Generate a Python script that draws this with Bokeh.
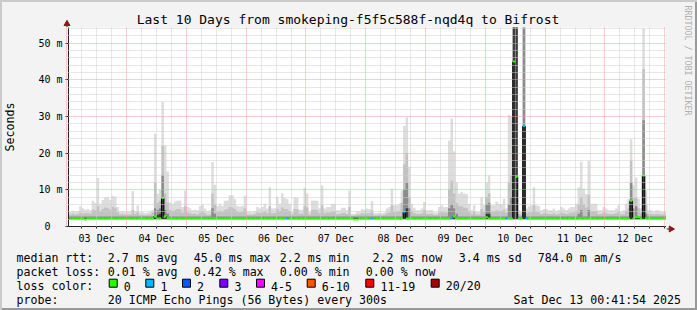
import math
from bokeh.plotting import figure
from bokeh.layouts import column, row
from bokeh.models import Range1d, FixedTicker, Grid, ColumnDataSource
from bokeh.core.properties import value
from bokeh.embed import file_html
from bokeh.resources import INLINE

# ------------------------------------------------------------------ data
TITLE = "Last 10 Days from smokeping-f5f5c588f-nqd4q to Bifrost"
day_labels = ["03 Dec", "04 Dec", "05 Dec", "06 Dec", "07 Dec",
              "08 Dec", "09 Dec", "10 Dec", "11 Dec", "12 Dec"]
y_tick_values = [0, 10, 20, 30, 40, 50]
y_tick_labels = ["0\u00a0\u00a0", "10 m", "20 m", "30 m", "40 m", "50 m"]

# hourly bins counted from 03 Dec 00:00 (bin i = hour i .. i+1), values in ms
ping_max = [
    4.1, 4.1, 4.3, 4.0, 4.2, 5.5, 5.0, 4.6, 4.8, 4.4, 7.0, 6.5, 13.2, 6.2, 7.2, 8.0, 8.0, 7.3, 8.4, 8.2, 5.3, 4.0, 4.2, 3.9,
    4.0, 4.1, 9.6, 4.2, 5.7, 3.8, 3.9, 3.7, 3.8, 4.0, 4.5, 25.3, 9.0, 10.0, 34.0, 22.2, 15.0, 6.6, 6.2, 6.8, 7.1, 7.1, 5.3, 9.8,
    5.3, 5.0, 4.5, 4.6, 4.4, 5.5, 6.0, 4.9, 4.2, 4.4, 17.6, 11.4, 5.6, 6.2, 5.6, 7.0, 7.1, 8.5, 8.5, 7.5, 5.6, 5.4, 5.6, 8.4,
    4.0, 4.1, 3.9, 4.2, 5.3, 5.0, 5.3, 6.2, 4.9, 10.7, 4.9, 5.0, 8.0, 6.2, 9.1, 7.8, 7.5, 6.2, 4.0, 8.0, 7.8, 4.6, 4.6, 10.5,
    9.0, 4.0, 7.1, 7.1, 7.0, 5.0, 11.2, 4.9, 5.3, 5.3, 6.2, 6.2, 4.4, 4.4, 5.1, 5.1, 4.4, 9.8, 3.5, 3.5, 4.0, 4.0, 4.8, 4.6,
    4.9, 4.8, 6.9, 3.7, 3.7, 3.8, 3.7, 3.8, 4.9, 5.3, 10.3, 5.8, 5.8, 6.2, 9.8, 27.4, 29.8, 16.3, 6.2, 5.1, 4.4, 4.4, 4.9, 6.7,
    4.4, 4.4, 4.6, 3.9, 3.9, 5.3, 5.8, 5.3, 5.3, 23.5, 29.5, 20.5, 12.0, 9.0, 9.5, 9.0, 8.9, 6.2, 4.4, 5.8, 4.0, 4.0, 8.0, 5.8,
    12.0, 13.9, 5.8, 5.8, 6.8, 6.2, 6.0, 7.6, 5.0, 30.5, 30.0, 60.0, 60.0, 4.4, 4.0, 60.0, 4.9, 5.5, 5.8, 10.7, 5.8, 5.6, 4.4, 4.8,
    4.8, 4.4, 4.4, 4.9, 4.2, 4.5, 5.3, 4.9, 4.4, 4.9, 5.3, 5.3, 6.2, 10.7, 17.7, 10.3, 8.9, 17.9, 6.2, 6.2, 6.2, 4.4, 4.4, 5.3,
    4.9, 4.4, 4.4, 4.4, 4.9, 5.8, 4.0, 4.4, 6.2, 7.6, 23.8, 11.2, 13.4, 7.6, 5.0, 54.0, 9.8, 4.4, 4.4, 4.0, 4.4, 4.4, 4.0, 4.0,
    4.0,
]
ping_p19 = [
    3.4, 3.3, 3.5, 3.3, 3.4, 3.8, 3.6, 3.6, 3.7, 3.5, 4.6, 4.4, 5.5, 4.2, 4.8, 5.2, 5.0, 4.6, 5.3, 5.0, 3.8, 3.3, 3.4, 3.2,
    3.3, 3.3, 4.5, 3.4, 3.9, 3.2, 3.2, 3.1, 3.2, 3.3, 3.8, 12.0, 6.5, 7.0, 22.0, 9.0, 6.5, 4.5, 4.2, 4.5, 4.8, 4.7, 3.8, 5.5,
    3.8, 3.6, 3.4, 3.5, 3.3, 3.8, 4.0, 3.6, 3.2, 3.3, 9.0, 6.0, 4.0, 4.3, 4.0, 4.6, 4.7, 5.3, 5.2, 4.8, 4.0, 3.9, 4.0, 5.0,
    3.3, 3.3, 3.2, 3.4, 3.8, 3.7, 3.8, 4.1, 3.6, 5.5, 3.6, 3.7, 4.8, 4.2, 5.2, 4.8, 4.7, 4.2, 3.3, 4.8, 4.7, 3.5, 3.5, 5.5,
    5.2, 3.3, 4.6, 4.6, 4.5, 3.7, 5.8, 3.6, 3.8, 3.8, 4.1, 4.1, 3.4, 3.4, 3.7, 3.7, 3.4, 5.3, 3.0, 3.0, 3.3, 3.3, 3.6, 3.5,
    3.6, 3.6, 4.4, 3.1, 3.1, 3.2, 3.1, 3.2, 3.6, 3.8, 5.8, 4.0, 4.0, 4.2, 6.5, 17.0, 20.0, 8.0, 4.2, 3.7, 3.4, 3.4, 3.6, 4.4,
    3.4, 3.4, 3.5, 3.2, 3.2, 3.8, 4.0, 3.8, 3.8, 10.0, 12.5, 9.0, 6.5, 5.5, 5.5, 5.2, 5.0, 4.1, 3.4, 4.0, 3.3, 3.3, 4.8, 4.0,
    8.0, 9.0, 4.0, 4.0, 4.4, 4.2, 4.1, 4.6, 3.7, 12.0, 14.0, 60.0, 60.0, 3.4, 3.3, 60.0, 3.6, 3.9, 4.0, 5.8, 4.0, 3.9, 3.4, 3.6,
    3.6, 3.4, 3.4, 3.6, 3.3, 3.5, 3.8, 3.6, 3.4, 3.6, 3.8, 3.8, 4.2, 6.0, 8.0, 6.0, 5.2, 8.5, 4.2, 4.2, 4.2, 3.4, 3.4, 3.8,
    3.6, 3.4, 3.4, 3.4, 3.6, 4.0, 3.3, 3.4, 4.2, 5.0, 18.0, 8.0, 8.0, 5.0, 3.7, 43.0, 6.0, 3.4, 3.4, 3.3, 3.4, 3.4, 3.3, 3.3,
    3.3,
]
ping_min = 2.0
# inner smoke, typical value plus readings where it differs
p15_typical = 2.7
p15_read = {35: 5.0, 36: 4.5, 37: 5.0, 38: 14.0, 39: 4.5, 40: 3.5, 58: 5.0, 59: 3.5,
            135: 10.0, 136: 12.0, 137: 5.0, 153: 5.0, 154: 6.0, 155: 5.0, 156: 3.5,
            168: 6.0, 169: 6.5, 177: 6.0, 178: 8.0, 179: 60.0, 180: 60.0, 183: 60.0,
            205: 3.5, 206: 4.5, 209: 4.5, 226: 12.0, 227: 5.0, 228: 5.5, 231: 29.0, 232: 3.5}
# dense core of the smoke
core_typical = 2.3
core_read = {36: 3.2, 37: 3.5, 38: 7.8, 135: 4.0, 136: 5.0, 168: 3.5, 169: 3.5,
             179: 60.0, 180: 60.0, 183: 27.4, 226: 7.0, 231: 13.9}
# median rtt
median_typical = 2.2
median_read = {7: 1.9, 35: 2.8, 38: 7.8, 39: 2.8, 115: 1.9, 116: 1.9, 135: 4.0,
               154: 2.4, 155: 2.8, 168: 2.5, 179: 45.0, 180: 13.6, 183: 27.4,
               226: 7.0, 228: 2.5, 229: 2.5, 231: 13.9}
# lost pings out of 20
loss_read = {88: 1, 122: 1, 135: 1, 154: 1, 176: 1, 183: 1, 184: 1}

loss_labels = ["0", "1", "2", "3", "4-5", "6-10", "11-19", "20/20"]
loss_colors = ["#26ff00", "#00b8ff", "#0059ff", "#7e00ff", "#ff00ff",
               "#ff5500", "#ff0000", "#a10000"]

rtt_label = "median rtt:"
rtt_stats = ["2.7 ms avg", "45.0 ms max", "2.2 ms min", "2.2 ms now", "3.4 ms sd", "784.0 m am/s"]
loss_label = "packet loss:"
loss_stats = ["0.01 % avg", "0.42 % max", "0.00 % min", "0.00 % now"]
color_label = "loss color:"
probe_label = "probe:"
probe_text = "20 ICMP Echo Pings (56 Bytes) every 300s"
stamp_text = "Sat Dec 13 00:41:54 2025"
watermark = "RRDTOOL / TOBI OETIKER"

N = len(ping_max)
assert N == 241 and len(ping_p19) == N

p15 = [p15_read.get(i, p15_typical) for i in range(N)]
core = [core_read.get(i, core_typical) for i in range(N)]
median = [median_read.get(i, median_typical) for i in range(N)]
loss = [loss_read.get(i, 0) for i in range(N)]


def loss_bucket(n):
    if n <= 3:
        return n
    if n <= 5:
        return 4
    if n <= 10:
        return 5
    if n <= 19:
        return 6
    return 7

# ------------------------------------------------------------------ layout
W, H = 697, 310
FL, FR, FT, FB = 66, 666, 27, 228      # graph frame in page pixels
SPLIT = 246                            # page row where the legend strip starts
X0, X1 = 0.7, 240.7
Y0, Y1 = 0.0, 54.3
MONO = "DejaVu Sans Mono"
AXIS = "#222222"
ARROW = "#8b1a1a"


def blank(width, height, xr, yr):
    f = figure(width=width, height=height, x_range=xr, y_range=yr,
               output_backend="svg", toolbar_location=None,
               x_axis_location=None, y_axis_location=None,
               min_border=0, min_border_left=0, min_border_right=0,
               min_border_top=0, min_border_bottom=0,
               background_fill_alpha=0, border_fill_alpha=0,
               outline_line_color=None, frame_align=False)
    f.xgrid.visible = False
    f.ygrid.visible = False
    return f


# ---- main graph
p = figure(width=FR, height=SPLIT - FT, x_range=Range1d(X0, X1), y_range=Range1d(Y0, Y1),
           output_backend="svg", toolbar_location=None,
           min_border_left=FL, min_border_right=0,
           min_border_top=0, min_border_bottom=SPLIT - FB,
           background_fill_color="#ffffff", border_fill_alpha=0,
           outline_line_color=None, frame_align=False)
p.xgrid.visible = False
p.ygrid.visible = False

edges = list(range(N + 1))


def ext(v):
    return list(v) + [v[-1]]


floor = [ping_min] * (N + 1)
for vals, col in [(ping_max, "#dddddd"), (ping_p19, "#c2c2c2"),
                  (p15, "#8c8c8c"), (core, "#3c3c3c")]:
    p.varea_step(x=edges, y1=floor, y2=ext(vals), step_mode="after",
                 fill_color=col, fill_alpha=1.0)

cx, cy0, cy1 = [], [], []
for i in range(1, N):
    if abs(median[i] - median[i - 1]) > 0.35:
        cx.append(i)
        cy0.append(median[i - 1])
        cy1.append(median[i])
p.segment(x0=cx, x1=cx, y0=cy0, y1=cy1, line_color="#000000", line_width=1)

msrc = ColumnDataSource(dict(
    x0=list(range(N)), x1=[i + 1 for i in range(N)], y=median,
    c=[loss_colors[loss_bucket(n)] for n in loss]))
p.segment(x0="x0", x1="x1", y0="y", y1="y", line_color="c", line_width=2, source=msrc)

minor_x = [6 * k for k in range(41) if k % 4 != 0]
major_x = [24 * k for k in range(11)]
minor_y = [2 * k for k in range(28) if k % 5 != 0]
major_y = [10 * k for k in range(1, 6)]
for dim, ticks, col in [(0, minor_x, "#cfcfcf"), (1, minor_y, "#cfcfcf"),
                        (0, major_x, "#f0a0a0"), (1, major_y, "#f0a0a0")]:
    p.add_layout(Grid(dimension=dim, ticker=FixedTicker(ticks=ticks), grid_line_color=col,
                      grid_line_dash="1 1", grid_line_width=1, level="guide"))

noon = [12 + 24 * k for k in range(10)]
p.xaxis.ticker = FixedTicker(ticks=noon, minor_ticks=[6 * k for k in range(41)])
p.xaxis.major_label_overrides = {t: lab for t, lab in zip(noon, day_labels)}
p.xaxis.major_tick_out = 0
p.xaxis.major_tick_in = 0
p.xaxis.minor_tick_out = 2
p.xaxis.minor_tick_in = 0
p.xaxis.major_label_standoff = 4
p.yaxis.ticker = FixedTicker(ticks=y_tick_values)
p.yaxis.major_label_overrides = {t: lab for t, lab in zip(y_tick_values, y_tick_labels)}
p.yaxis.major_tick_out = 3
p.yaxis.major_tick_in = 0
p.yaxis.minor_tick_out = 0
p.yaxis.minor_tick_in = 0
p.yaxis.major_label_standoff = 3
p.yaxis.axis_label = "Seconds"
p.yaxis.axis_label_text_font = MONO
p.yaxis.axis_label_text_font_size = "11.6px"
p.yaxis.axis_label_text_font_style = "normal"
p.yaxis.axis_label_text_color = "#000000"
p.yaxis.axis_label_standoff = 18
for ax in (p.xaxis, p.yaxis):
    ax.major_label_text_font = MONO
    ax.major_label_text_font_size = "10px"
    ax.major_label_text_color = "#000000"
    ax.axis_line_color = AXIS
    ax.major_tick_line_color = AXIS
    ax.minor_tick_line_color = AXIS

# ---- title strip (page pixel coordinates)
top = blank(FR, FT, Range1d(0, FR), Range1d(FT, 0))
top.text(x=[347.5], y=[18.6], text=[TITLE], text_font=value(MONO),
         text_font_size=value("13px"), text_align="center",
         text_baseline="middle", text_color="#000000")
top.segment(x0=[FL + 0.5], x1=[FL + 0.5], y0=[23], y1=[FT], line_color=AXIS, line_width=1)
top.scatter(x=[FL + 0.5], y=[23.3], marker="triangle", size=6,
            fill_color=ARROW, line_color=ARROW)

# ---- right strip (page pixel coordinates)
side = blank(W - FR, SPLIT, Range1d(FR, W), Range1d(SPLIT, 0))
side.text(x=[687], y=[60], text=[watermark], text_font=value(MONO),
          text_font_size=value("8.3px"), text_align="center", text_baseline="middle",
          angle=-math.pi / 2, text_color="#b0b0b0")
side.segment(x0=[FR], x1=[669], y0=[FB + 0.5], y1=[FB + 0.5], line_color=AXIS, line_width=1)
side.scatter(x=[670.5], y=[FB + 0.5], marker="triangle", size=6, angle=-math.pi / 2,
             fill_color=ARROW, line_color=ARROW)

# ---- legend strip (page pixel coordinates)
bot = blank(W, H - SPLIT, Range1d(0, W), Range1d(H, SPLIT))
L1, L2, L3, L4 = 257.8, 271.6, 285.6, 299.4
left_x = [16, 107.3, 193.3, 279.3, 372.0, 458.3, 537.3,
          16, 107.3, 193.3, 279.3, 365.3,
          16, 16, 107.3]
left_y = [L1] * 7 + [L2] * 5 + [L3, L4, L4]
left_t = [rtt_label] + rtt_stats + [loss_label] + loss_stats + [color_label, probe_label, probe_text]
bot.text(x=left_x, y=left_y, text=left_t, text_font=value(MONO),
         text_font_size=value("11.6px"), text_align="left", text_baseline="alphabetic",
         text_color="#000000")
bot.text(x=[680.5], y=[L4], text=[stamp_text], text_font=value(MONO),
         text_font_size=value("11.6px"), text_align="right", text_baseline="alphabetic",
         text_color="#000000")
box_x = [108.7, 145.3, 182.0, 219.3, 256.0, 306.7, 365.3, 430.7]
bot.quad(left=box_x, right=[b + 8 for b in box_x], top=[278.7] * 8, bottom=[286.7] * 8,
         fill_color=loss_colors, line_color="#000000", line_width=1)
bot.text(x=[b + 14.6 for b in box_x], y=[L3] * 8, text=loss_labels, text_font=value(MONO),
         text_font_size=value("11.6px"), text_align="left", text_baseline="alphabetic",
         text_color="#000000")

layout = column(row(column(top, p, spacing=0), side, spacing=0), bot, spacing=0,
                styles={"background-color": "#f3f3f3",
                        "box-shadow": "inset 2px 2px 0 0 #cbcbcb, inset -2px -2px 0 0 #999999"})

open("out.html", "w").write(file_html(layout, INLINE))
